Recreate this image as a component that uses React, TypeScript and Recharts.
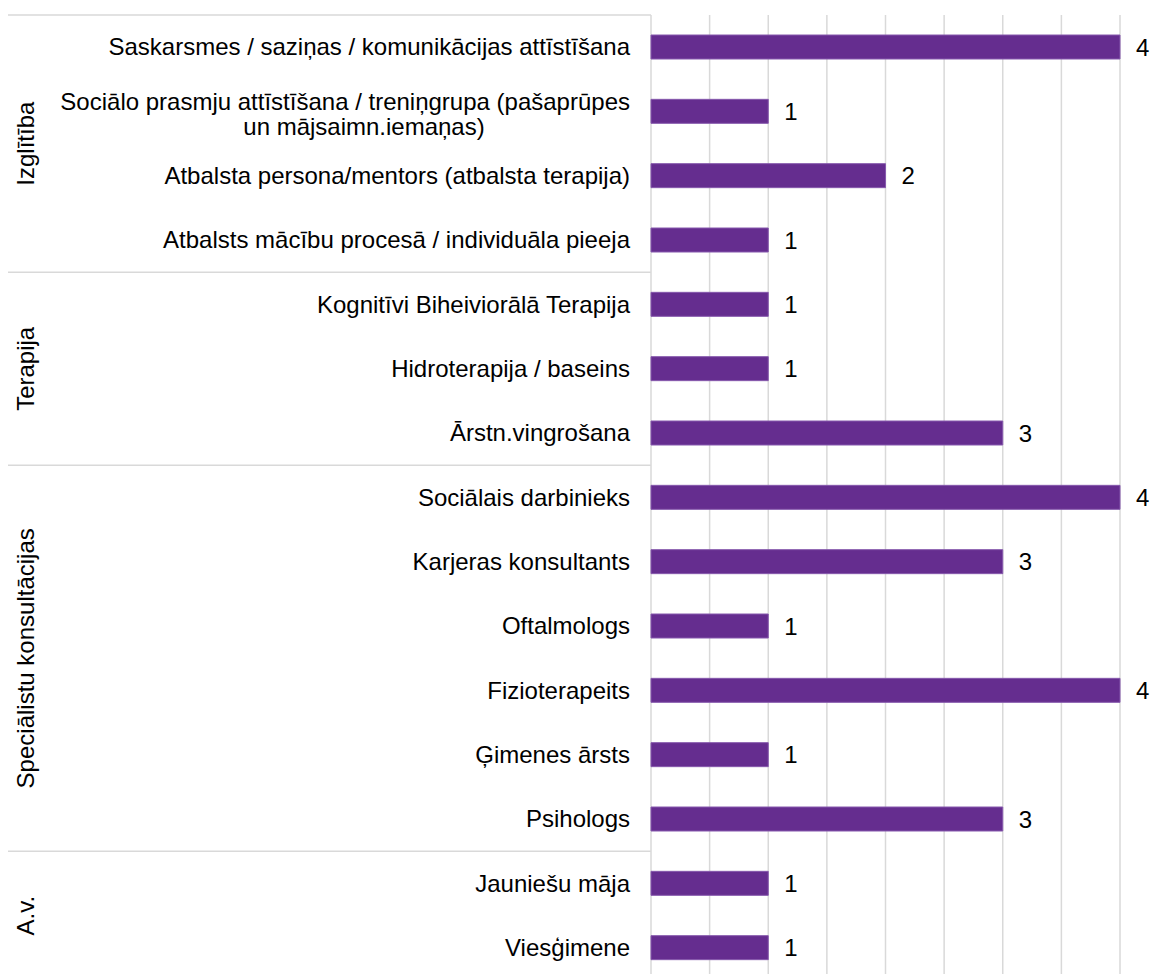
import { Bar, BarChart, CartesianGrid, LabelList, XAxis, YAxis } from "recharts";

const categories = [
  "Saskarsmes / saziņas / komunikācijas attīstīšana",
  "Sociālo prasmju attīstīšana / treniņgrupa (pašaprūpes un mājsaimn.iemaņas)",
  "Atbalsta persona/mentors (atbalsta terapija)",
  "Atbalsts mācību procesā / individuāla pieeja",
  "Kognitīvi Biheiviorālā Terapija",
  "Hidroterapija / baseins",
  "Ārstn.vingrošana",
  "Sociālais darbinieks",
  "Karjeras konsultants",
  "Oftalmologs",
  "Fizioterapeits",
  "Ģimenes ārsts",
  "Psihologs",
  "Jauniešu māja",
  "Viesģimene",
];

const values = [4, 1, 2, 1, 1, 1, 3, 4, 3, 1, 4, 1, 3, 1, 1];

const groupNames = ["Izglītība", "Terapija", "Speciālistu konsultācijas", "A.v."];
const groupSizes = [4, 3, 6, 2];

const xTicks = [0, 0.5, 1, 1.5, 2, 2.5, 3, 3.5, 4];

const data = categories.map((name, i) => ({ name, value: values[i] }));

const PLOT_TOP = 15;
const PLOT_BOTTOM = 980;
const ROW_H = (PLOT_BOTTOM - PLOT_TOP) / categories.length;
const AXIS_X = 651;
const TEXT_RIGHT = 630;
const FONT = "'Liberation Sans', Arial, sans-serif";
const FS = 24;

// first index of each group -> group index
const groupStarts: Record<number, number> = {};
let acc = 0;
groupSizes.forEach((n, g) => {
  groupStarts[acc] = g;
  acc += n;
});

function CategoryTick(props: any) {
  const { y, payload } = props;
  const i = payload.index;
  const label: string = payload.value;
  const g = groupStarts[i];
  const top = y - ROW_H / 2;

  let text;
  if (i === 1) {
    // wrapped label, second line centred like in the original
    text = (
      <text fontFamily={FONT} fontSize={FS} fill="#000">
        <tspan x={TEXT_RIGHT} y={y - 2} textAnchor="end">
          Sociālo prasmju attīstīšana / treniņgrupa (pašaprūpes
        </tspan>
        <tspan x={TEXT_RIGHT - 266} y={y + 23} textAnchor="middle">
          un mājsaimn.iemaņas)
        </tspan>
      </text>
    );
  } else {
    text = (
      <text
        x={TEXT_RIGHT}
        y={y}
        dy={8}
        textAnchor="end"
        fontFamily={FONT}
        fontSize={FS}
        fill="#000"
      >
        {label}
      </text>
    );
  }

  return (
    <g>
      {text}
      {g !== undefined && (
        <>
          <line x1={8} x2={AXIS_X} y1={top} y2={top} stroke="#d9d9d9" strokeWidth={1.5} />
          <text
            x={26}
            y={top + (groupSizes[g] * ROW_H) / 2}
            transform={`rotate(-90, 26, ${top + (groupSizes[g] * ROW_H) / 2})`}
            textAnchor="middle"
            dominantBaseline="central"
            fontFamily={FONT}
            fontSize={FS}
            fill="#000"
          >
            {groupNames[g]}
          </text>
        </>
      )}
    </g>
  );
}

export default function App() {
  return (
    <div
      style={{
        position: "absolute",
        left: 0,
        top: 0,
        width: 1166,
        height: 974,
        overflow: "hidden",
        background: "#fff",
      }}
    >
      <BarChart
        width={1166}
        height={990}
        data={data}
        layout="vertical"
        margin={{ top: PLOT_TOP, right: 46, left: 0, bottom: 990 - PLOT_BOTTOM }}
      >
        <CartesianGrid horizontal={false} stroke="#d9d9d9" strokeWidth={1.5} />
        <XAxis type="number" domain={[0, 4]} ticks={xTicks} hide />
        <YAxis
          type="category"
          dataKey="name"
          width={AXIS_X}
          axisLine={false}
          tickLine={false}
          interval={0}
          tick={<CategoryTick />}
        />
        <Bar
          dataKey="value"
          fill="#652d8f"
          stroke="#8659ad"
          strokeWidth={1}
          barSize={24}
          isAnimationActive={false}
        >
          <LabelList
            dataKey="value"
            position="right"
            offset={16}
            fontFamily={FONT}
            fontSize={FS}
            fill="#000"
          />
        </Bar>
      </BarChart>
    </div>
  );
}
